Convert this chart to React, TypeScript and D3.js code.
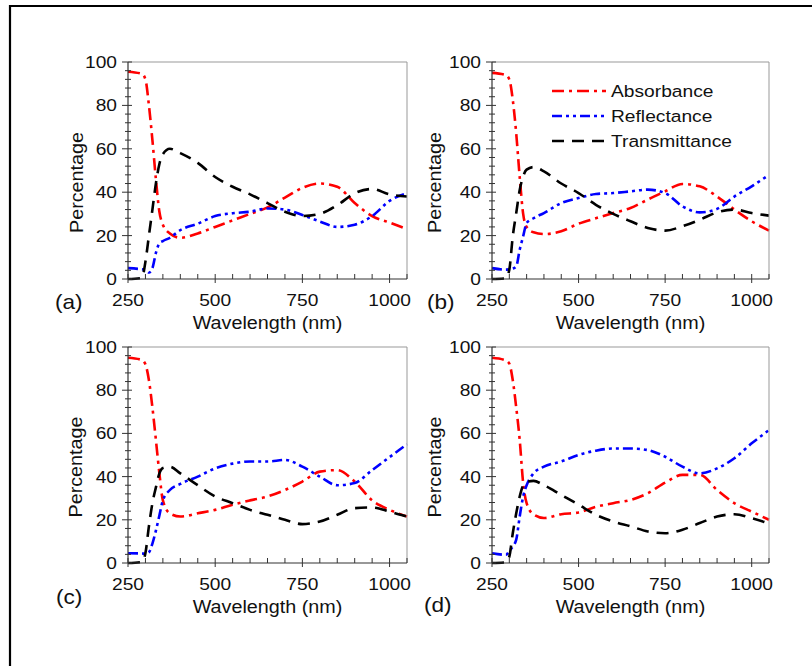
import React from 'react'
import * as d3 from 'd3'

// wavelength grid shared by every curve (nm)
const wavelengths = [250, 290, 300, 310, 320, 330, 340, 350, 370, 400, 450, 500, 550, 600, 650, 700, 750, 800, 850, 900, 950, 1000, 1050]

const absA = [95.5, 94.5, 92, 80, 64, 46, 31, 25, 21, 19, 21, 24, 27, 30, 33, 37.5, 42, 44, 42.5, 35, 29, 26, 23]
const refA = [5, 4.5, 4.3, 3, 5, 12, 16.5, 17.5, 19, 22.5, 25.5, 29, 30.3, 31, 32.5, 32, 29.5, 26.5, 24, 25, 29, 36, 39.5]
const traA = [0, 0.5, 8, 20, 32, 44, 53, 57.5, 60, 58, 53.5, 47, 42.5, 39, 35, 31, 29, 30, 34, 39.5, 41.5, 39, 38]

const absB = [95, 94, 92, 82.5, 67, 47, 30, 24, 21.5, 20.7, 22, 25.5, 28, 30.4, 32.7, 36.6, 40.4, 43.8, 42.7, 38, 32, 26.6, 22.3]
const refB = [5, 4.3, 4.5, 4.8, 5.8, 13.5, 19.7, 25.8, 28, 30.4, 35, 37.3, 39.2, 39.6, 40.4, 41.2, 39.6, 33.5, 30.7, 32.3, 38, 42.7, 48]
const traB = [0, 0.3, 4.3, 19.7, 30.4, 41, 47.3, 50.4, 51.6, 49.6, 44, 39.6, 34.2, 30, 26.6, 23.5, 22.3, 24.3, 27.3, 30.7, 32, 30.4, 29.2]

const absC = [95, 94, 92, 84.6, 72, 57, 41.5, 29, 23, 21.5, 23, 24.6, 27, 29, 30.8, 33.8, 37.7, 42.3, 43, 37.7, 29, 24.6, 21.5]
const refC = [4.5, 4.4, 4.3, 5, 9, 15, 22, 29, 33.8, 36.6, 40, 43.8, 46, 47, 47, 47.7, 44.6, 40, 36, 37, 43, 49, 55]
const traC = [0, 0.5, 4.6, 17, 27.7, 35, 41.5, 44, 44.6, 41.5, 36, 30.8, 27.7, 24.6, 22.3, 20, 18, 19.2, 22.3, 25.4, 25.7, 23.8, 21.5]

const absD = [95, 93.8, 92.3, 84.6, 72, 57, 37, 27.7, 22.5, 20.8, 22.6, 23.4, 26, 27.7, 29.2, 32.3, 37.2, 40.8, 40.8, 33.8, 27.7, 23.8, 20]
const refD = [4.5, 3.8, 5.4, 7.7, 10.8, 21.5, 30.8, 36, 41.5, 44.6, 47, 50, 52, 53, 53, 52.3, 49.2, 44.6, 41.5, 43.8, 48.5, 55.4, 61.5]
const traD = [0, 0.3, 3, 13.8, 23, 30.8, 36, 37.5, 38, 36, 31.5, 27, 22.3, 19.2, 17, 14.6, 13.8, 15.4, 18.5, 21.5, 22.6, 20.8, 18.2]

const seriesNames = ['Absorbance', 'Reflectance', 'Transmittance']
const xTicks = [250, 500, 750, 1000]
const yTicks = [0, 20, 40, 60, 80, 100]

const styles = [
    { color: '#ff0000', dash: '12,5,3,5' },
    { color: '#0000ff', dash: '10,4,3,4,3,4' },
    { color: '#000000', dash: '12,8' },
]

const FONT = '"Liberation Sans", Arial, sans-serif'
const SX = 1.13

const panels = [
    { tag: '(a)', data: [absA, refA, traA], left: 128, right: 407, top: 62, bottom: 279, tagX: 55, tagY: 309, yLabX: 77, legend: false },
    { tag: '(b)', data: [absB, refB, traB], left: 492, right: 769, top: 62, bottom: 279, tagX: 427, tagY: 309, yLabX: 435, legend: true },
    { tag: '(c)', data: [absC, refC, traC], left: 128, right: 407, top: 347, bottom: 563, tagX: 56, tagY: 604, yLabX: 76, legend: false },
    { tag: '(d)', data: [absD, refD, traD], left: 492, right: 769, top: 347, bottom: 563, tagX: 424, tagY: 612, yLabX: 435, legend: false },
]

const Txt = ({ x, y, size, anchor = 'start', rotate = 0, children }) => (
    <text transform={`translate(${x},${y}) rotate(${rotate}) scale(${SX},1)`}
        textAnchor={anchor} fontFamily={FONT} fontSize={size} fill="#111">{children}</text>
)

const Panel = ({ p }) => {
    const x = d3.scaleLinear().domain([250, 1050]).range([p.left, p.right])
    const y = d3.scaleLinear().domain([0, 100]).range([p.bottom, p.top])
    const line = d3.line().x((d) => x(d[0])).y((d) => y(d[1])).curve(d3.curveMonotoneX)
    const xMinor = d3.range(250, 1051, 50)
    const yMinor = d3.range(0, 101, 4)

    return (
        <g>
            {p.data.map((vals, i) => (
                <path key={i} d={line(wavelengths.map((w, j) => [w, vals[j]]))}
                    fill="none" stroke={styles[i].color} strokeWidth={2.6}
                    strokeDasharray={styles[i].dash} />
            ))}
            {/* frame */}
            <line x1={p.left} x2={p.right} y1={p.top} y2={p.top} stroke="#999" strokeWidth={1} />
            <line x1={p.right} x2={p.right} y1={p.top} y2={p.bottom} stroke="#999" strokeWidth={1} />
            <line x1={p.left} x2={p.left} y1={p.top} y2={p.bottom} stroke="#333" strokeWidth={1.2} />
            <line x1={p.left} x2={p.right} y1={p.bottom} y2={p.bottom} stroke="#333" strokeWidth={1.2} />
            {xMinor.map((t) => (
                <line key={'xm' + t} x1={x(t)} x2={x(t)} y1={p.bottom - 5} y2={p.bottom + (t % 250 === 0 ? 4 : 0)} stroke="#333" />
            ))}
            {yMinor.map((t) => (
                <line key={'ym' + t} x1={p.left - (t % 20 === 0 ? 6 : 3)} x2={p.left + (t % 20 === 0 ? 4 : 3)} y1={y(t)} y2={y(t)} stroke="#333" />
            ))}
            {xTicks.map((t) => (
                <Txt key={'xt' + t} x={x(t)} y={p.bottom + 27} size={17} anchor="middle">{t}</Txt>
            ))}
            {yTicks.map((t) => (
                <Txt key={'yt' + t} x={p.left - 11} y={y(t) + 6} size={17} anchor="end">{t}</Txt>
            ))}
            <Txt x={(p.left + p.right) / 2} y={p.bottom + 50} size={17.5} anchor="middle">Wavelength (nm)</Txt>
            <Txt x={p.yLabX + 6} y={(p.top + p.bottom) / 2 + 12} size={17.5} anchor="middle" rotate={-90}>Percentage</Txt>
            <Txt x={p.tagX} y={p.tagY} size={20}>{p.tag}</Txt>
            {p.legend && seriesNames.map((name, i) => {
                const ly = p.top + 29 + i * 25
                return (
                    <g key={name}>
                        <line x1={p.left + 60} x2={p.left + 114} y1={ly} y2={ly}
                            stroke={styles[i].color} strokeWidth={2.6} strokeDasharray={styles[i].dash} />
                        <Txt x={p.left + 119} y={ly + 6} size={17}>{name}</Txt>
                    </g>
                )
            })}
        </g>
    )
}

export default function App() {
    return (
        <svg width={812} height={666} style={{ position: 'absolute', left: 0, top: 0, background: '#fff' }}>
            <rect x={0} y={0} width={812} height={666} fill="#fff" />
            <path d="M10,666 L10,6 L812,6" fill="none" stroke="#000" strokeWidth={2.2} />
            {panels.map((p) => <Panel key={p.tag} p={p} />)}
        </svg>
    )
}
